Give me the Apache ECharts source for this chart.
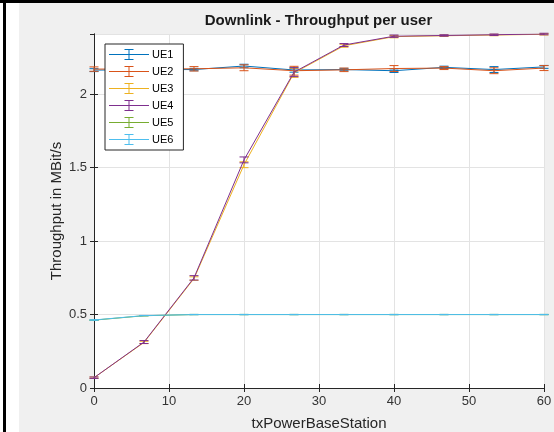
<!DOCTYPE html>
<html>
<head>
<meta charset="utf-8">
<script src="https://cdn.jsdelivr.net/npm/echarts@6/dist/echarts.min.js"></script>
<style>html,body{margin:0;padding:0;background:#f0f0f0;}#c{width:554px;height:432px;}</style>
</head>
<body>
<div id="c"></div>
<script>
// ---- data ----
const txPower = [0, 6.667, 13.333, 20, 26.667, 33.333, 40, 46.667, 53.333, 60];
const ue1 = [2.164, 2.168, 2.168, 2.192, 2.165, 2.168, 2.160, 2.183, 2.168, 2.186];
const ue1Err = [0.010, 0.010, 0.008, 0.012, 0.015, 0.008, 0.012, 0.008, 0.020, 0.010];
const ue2 = [2.171, 2.172, 2.173, 2.180, 2.160, 2.166, 2.175, 2.178, 2.160, 2.178];
const ue2Err = [0.015, 0.012, 0.015, 0.020, 0.030, 0.012, 0.020, 0.010, 0.020, 0.017];
const ue3 = [0.070, 0.310, 0.745, 1.520, 2.145, 2.330, 2.392, 2.398, 2.403, 2.408];
const ue3Err = [0.005, 0.008, 0.012, 0.020, 0.030, 0.010, 0.008, 0.005, 0.005, 0.005];
const ue4 = [0.070, 0.313, 0.750, 1.553, 2.150, 2.335, 2.395, 2.400, 2.405, 2.410];
const ue4Err = [0.005, 0.010, 0.015, 0.020, 0.030, 0.010, 0.008, 0.005, 0.005, 0.005];
const ue5 = [0.462, 0.492, 0.500, 0.500, 0.500, 0.500, 0.500, 0.500, 0.500, 0.500];
const ue5Err = [0.002, 0.001, 0.001, 0.001, 0.001, 0.001, 0.001, 0.001, 0.001, 0.001];
const ue6 = [0.463, 0.493, 0.500, 0.500, 0.500, 0.500, 0.500, 0.500, 0.500, 0.500];
const ue6Err = [0.002, 0.001, 0.001, 0.001, 0.001, 0.001, 0.001, 0.001, 0.001, 0.001];
const names = ['UE1', 'UE2', 'UE3', 'UE4', 'UE5', 'UE6'];
const colors = ['#0072BD', '#D95319', '#EDB120', '#7E2F8E', '#77AC30', '#4DBEEE'];
const yTicks = [0, 0.5, 1, 1.5, 2];

const values = [ue1, ue2, ue3, ue4, ue5, ue6];
const errs = [ue1Err, ue2Err, ue3Err, ue4Err, ue5Err, ue6Err];

function errRender(color) {
  return function (params, api) {
    const x = api.value(0), y = api.value(1), e = api.value(2);
    const t = api.coord([x, y + e]);
    const b = api.coord([x, y - e]);
    const hw = 4.5;
    const st = { stroke: color, lineWidth: 1 };
    return {
      type: 'group',
      children: [
        { type: 'line', shape: { x1: t[0], y1: t[1], x2: b[0], y2: b[1] }, style: st },
        { type: 'line', shape: { x1: t[0] - hw, y1: t[1], x2: t[0] + hw, y2: t[1] }, style: st },
        { type: 'line', shape: { x1: b[0] - hw, y1: b[1], x2: b[0] + hw, y2: b[1] }, style: st }
      ]
    };
  };
}

const series = [];
names.forEach((n, i) => {
  series.push({
    name: n, type: 'line', symbol: 'none', color: colors[i],
    lineStyle: { width: 1, color: colors[i] },
    data: txPower.map((x, k) => [x, values[i][k]]),
    z: 2 + i * 0.01
  });
  series.push({
    name: n + ' err', type: 'custom', clip: false,
    renderItem: errRender(colors[i]),
    encode: { x: 0, y: 1 },
    data: txPower.map((x, k) => [x, values[i][k], errs[i][k]]),
    z: 2 + i * 0.01
  });
});

const axisCol = '#262626';
const font = 'Liberation Sans, Arial, sans-serif';

const chart = echarts.init(document.getElementById('c'), null, { renderer: 'canvas' });
chart.setOption({
  animation: false,
  backgroundColor: '#f0f0f0',
  textStyle: { fontFamily: font },
  graphic: [
    { type: 'rect', shape: { x: 0, y: 3, width: 19, height: 429 }, style: { fill: '#ffffff' }, z: -10 },
    { type: 'rect', shape: { x: 3, y: 0, width: 3, height: 432 }, style: { fill: '#000000' }, z: -9 },
    { type: 'rect', shape: { x: 0, y: 0, width: 554, height: 3 }, style: { fill: '#000000' }, z: -9 },
    { type: 'text', x: 318.5, y: 21, style: { text: 'Downlink - Throughput per user', align: 'center', verticalAlign: 'middle', font: 'bold 15px ' + font, fill: '#1a1a1a' } }
  ],
  grid: { left: 94, top: 34, right: 10, bottom: 44, show: true, backgroundColor: '#ffffff', borderWidth: 0, containLabel: false, outerBoundsMode: 'none' },
  legend: {
    orient: 'vertical', left: 105, top: 44,
    data: names,
    icon: 'path://M0,5h40v1h-40z M19.5,0h1v11h-1z M15.5,0h9v1h-9z M15.5,10h9v1h-9z',
    itemWidth: 40, itemHeight: 11, itemGap: 6,
    padding: [5, 10, 5, 4],
    backgroundColor: '#ffffff', borderColor: axisCol, borderWidth: 1, borderRadius: 0,
    textStyle: { fontSize: 11, color: '#000', fontFamily: font, padding: [0, 0, 0, -2] }
  },
  xAxis: [
    {
      type: 'value', min: 0, max: 60, interval: 10, position: 'bottom',
      axisLine: { show: true, lineStyle: { color: axisCol, width: 1 } },
      axisTick: { show: true, inside: true, length: 4, lineStyle: { color: axisCol } },
      axisLabel: { fontSize: 13, color: '#333', margin: 7, fontFamily: font },
      splitLine: { show: true, lineStyle: { color: '#e3e3e3', width: 1 } },
      name: 'txPowerBaseStation', nameLocation: 'middle', nameGap: 28, nameMoveOverlap: false,
      nameTextStyle: { fontSize: 15, color: axisCol, fontFamily: font }
    },
    {
      type: 'value', min: 0, max: 60, interval: 10, position: 'top',
      axisLine: { show: true, lineStyle: { color: axisCol, width: 1 } },
      axisTick: { show: true, inside: true, length: 4, lineStyle: { color: axisCol } },
      axisLabel: { show: false }, splitLine: { show: false }
    }
  ],
  yAxis: [
    {
      type: 'value', min: 0, max: 2.41, interval: 0.5, position: 'left',
      axisLine: { show: true, lineStyle: { color: axisCol, width: 1 } },
      axisTick: { show: true, inside: true, length: 4, lineStyle: { color: axisCol } },
      axisLabel: { fontSize: 13, color: '#333', margin: 7, fontFamily: font, showMaxLabel: false,
        formatter: v => (yTicks.indexOf(Math.round(v * 1000) / 1000) >= 0 ? String(v) : '') },
      splitLine: { show: true, lineStyle: { color: '#e3e3e3', width: 1 } },
      name: 'Throughput in MBit/s', nameLocation: 'middle', nameGap: 30, nameMoveOverlap: false,
      nameTextStyle: { fontSize: 15, color: axisCol, fontFamily: font }
    },
    {
      type: 'value', min: 0, max: 2.41, interval: 0.5, position: 'right',
      axisLine: { show: true, lineStyle: { color: axisCol, width: 1 } },
      axisTick: { show: true, inside: true, length: 4, lineStyle: { color: axisCol } },
      axisLabel: { show: false }, splitLine: { show: false }
    }
  ],
  series: series
});
</script>
</body>
</html>
